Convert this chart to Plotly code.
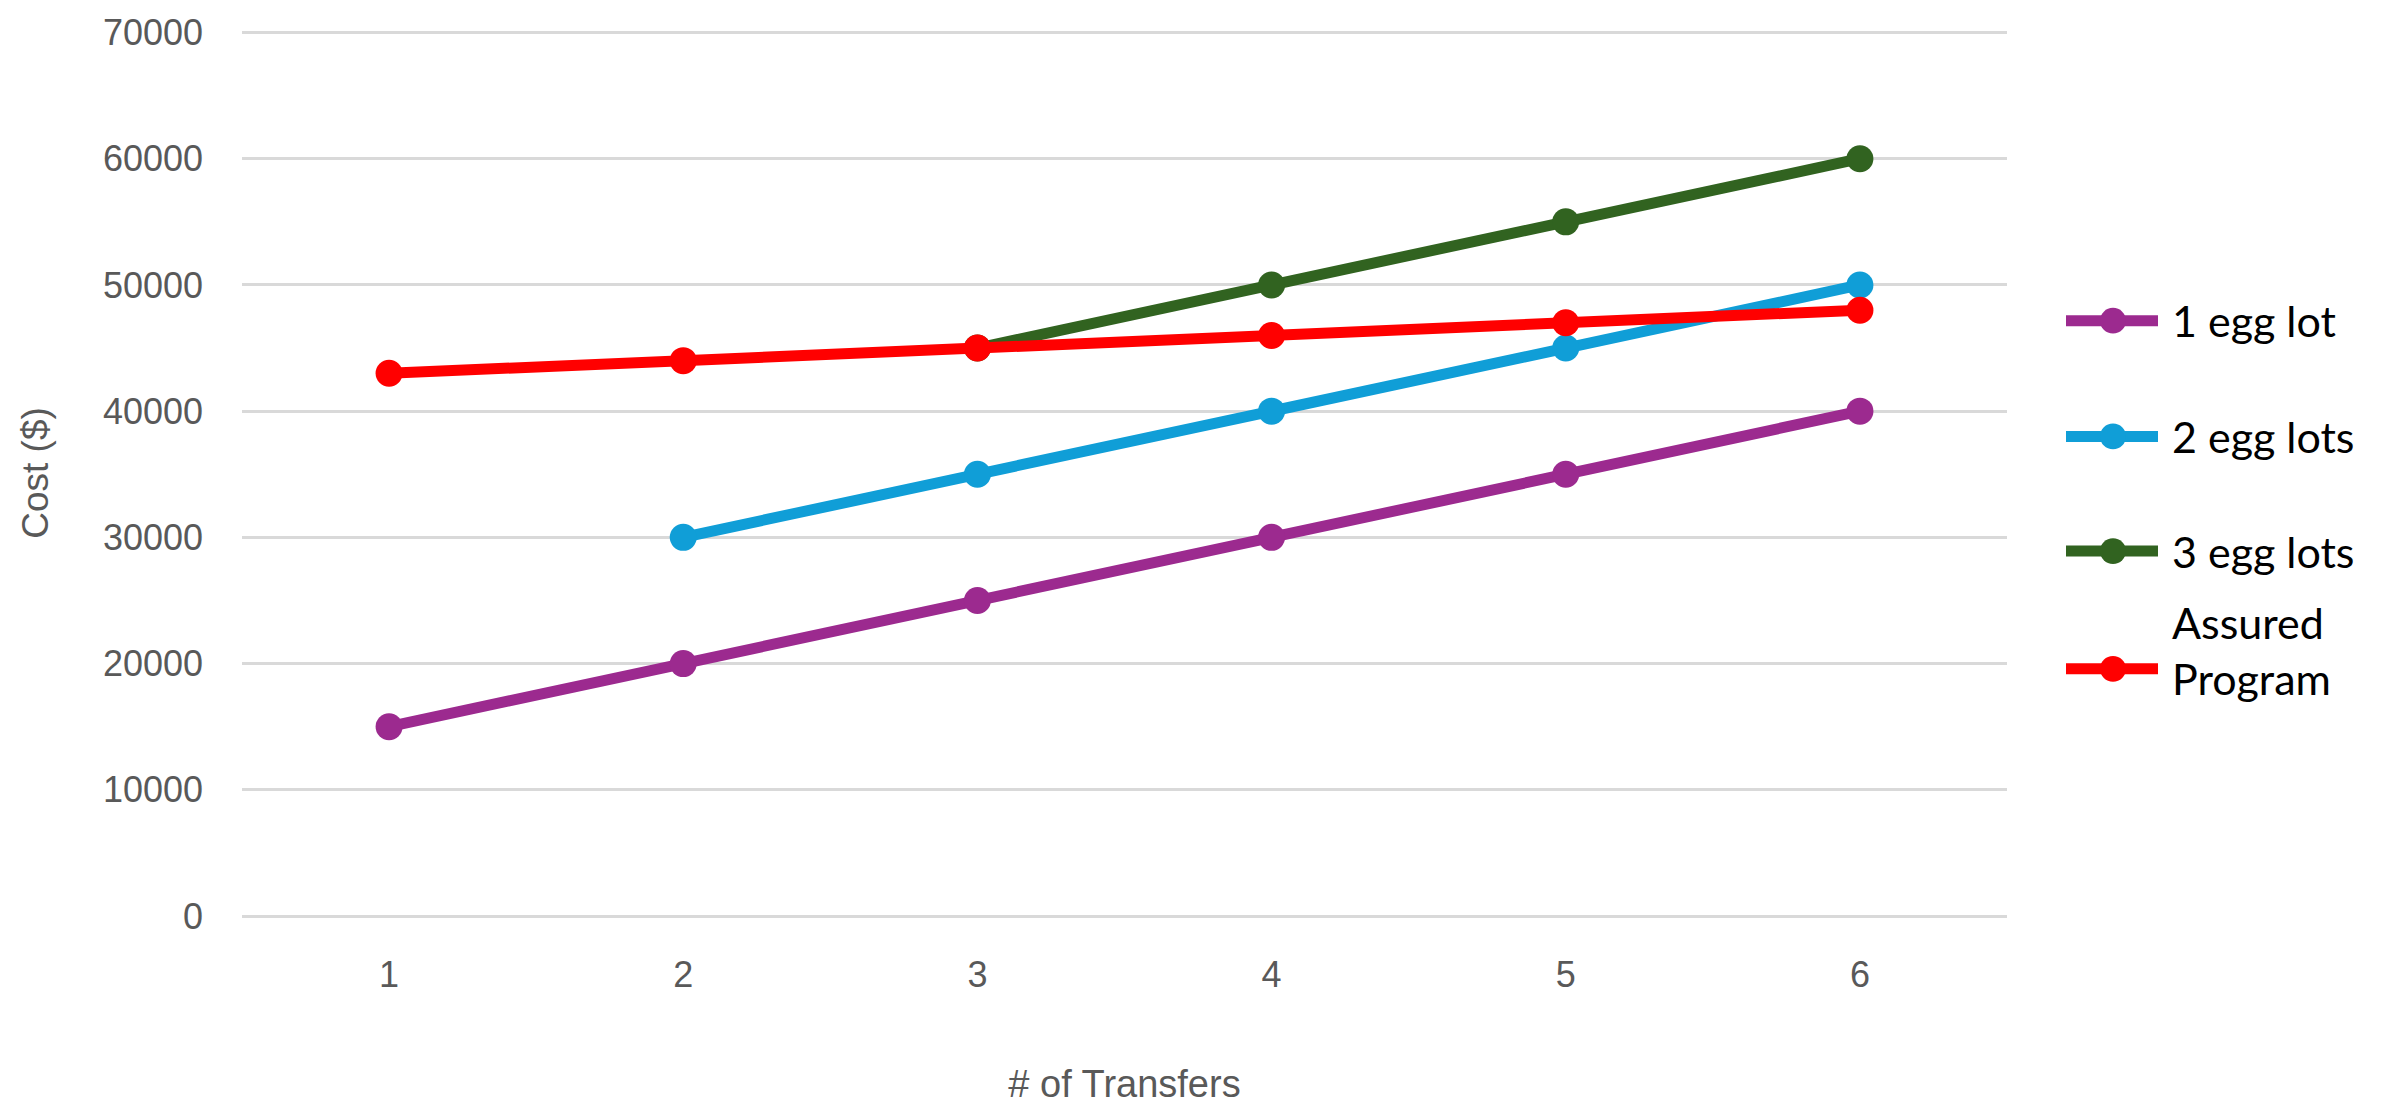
import plotly.graph_objects as go

# Number of embryo transfers (x axis)
transfers = [1, 2, 3, 4, 5, 6]

# Cumulative cost in dollars for each plan
one_lot = [15000, 20000, 25000, 30000, 35000, 40000]
two_lots_x = [2, 3, 4, 5, 6]
two_lots = [30000, 35000, 40000, 45000, 50000]
three_lots_x = [3, 4, 5, 6]
three_lots = [45000, 50000, 55000, 60000]
assured = [43000, 44000, 45000, 46000, 47000, 48000]

y_ticks = [0, 10000, 20000, 30000, 40000, 50000, 60000, 70000]

series = [
    ("1 egg lot", transfers, one_lot, "#9C2A8F"),
    ("2 egg lots", two_lots_x, two_lots, "#109ED7"),
    ("3 egg lots", three_lots_x, three_lots, "#316320"),
    ("Assured<br>Program", transfers, assured, "#FF0000"),
]

W, H = 2381, 1110
L, R, T, B = 242, 374, 26, 188
PW, PH = W - L - R, H - T - B

fig = go.Figure()
for name, xs, ys, color in series:
    fig.add_trace(go.Scatter(
        x=xs, y=ys, mode="lines+markers", name=name.replace("<br>", " "),
        line=dict(color=color, width=11),
        marker=dict(color=color, size=27),
        showlegend=False,
    ))


def px_x(px):
    return (px - L) / PW


def px_y(py):
    return (H - B - py) / PH


# Legend on the right: long line with a dot in the middle, label beside it
legend_rows = [320, 437, 553, 672]
shapes = []
annotations = []
for (name, _, _, color), ry in zip(series, legend_rows):
    shapes.append(dict(type="line", xref="paper", yref="paper",
                       x0=px_x(2066), x1=px_x(2158), y0=px_y(ry), y1=px_y(ry),
                       line=dict(color=color, width=11)))
    shapes.append(dict(type="circle", xref="paper", yref="paper",
                       x0=px_x(2100), x1=px_x(2126),
                       y0=px_y(ry + 13), y1=px_y(ry - 13),
                       fillcolor=color, line=dict(width=0)))
    text_y = ry if "<br>" not in name else 654
    annotations.append(dict(
        text=name, xref="paper", yref="paper", x=px_x(2170), y=px_y(text_y),
        xanchor="left", yanchor="middle", showarrow=False, align="left",
        font=dict(family="Lato", size=43, color="#000000"),
    ))

fig.update_layout(
    width=W, height=H,
    margin=dict(l=L, r=R, t=T, b=B, pad=0),
    paper_bgcolor="white", plot_bgcolor="white",
    shapes=shapes, annotations=annotations,
    font=dict(family="Liberation Sans", color="#595959"),
    xaxis=dict(
        range=[0.5, 6.5], tickvals=transfers, showgrid=False, zeroline=False,
        showline=False, ticks="", ticklabelstandoff=34,
        tickfont=dict(size=36, color="#595959"),
        title=dict(text="# of Transfers", font=dict(size=38, color="#595959"),
                   standoff=76),
    ),
    yaxis=dict(
        range=[0, 70200], tickvals=y_ticks, tickformat="d", showgrid=True,
        gridcolor="#D9D9D9", gridwidth=3, zeroline=True,
        zerolinecolor="#D9D9D9", zerolinewidth=3, showline=False, ticks="",
        ticklabelstandoff=38, tickfont=dict(size=36, color="#595959"),
        title=dict(text="Cost ($)", font=dict(size=37, color="#595959"),
                   standoff=42),
    ),
)

fig.write_html("out.html")
